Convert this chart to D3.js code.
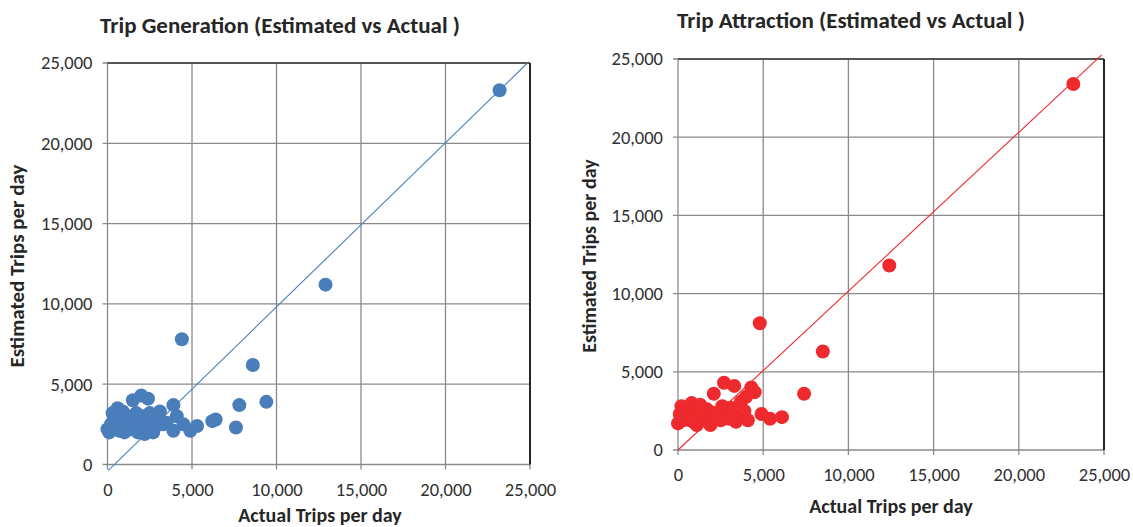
<!DOCTYPE html>
<html>
<head>
<meta charset="utf-8">
<script src="https://cdn.jsdelivr.net/npm/d3@7"></script>
<style>
  body { margin: 0; background: #fff; }
  svg { display: block; }
  text { font-family: Carlito, Lato, "Open Sans", sans-serif; }
</style>
</head>
<body>
<svg id="chart" width="1133" height="527"></svg>
<script>
// ---------- data ----------
const tickValues = [0, 5000, 10000, 15000, 20000, 25000];

const genTitle = "Trip Generation (Estimated vs Actual )";
const genActual = [0, 100, 200, 300, 400, 500, 600, 700, 800, 900, 1000, 1100, 1200, 1300, 1500, 1600, 1700, 1800, 2000, 2100, 2200, 2300, 2400, 2500, 2600, 2800, 3000, 3100, 3300, 3500, 3900, 3900, 4100, 4400, 4500, 4900, 5300, 6200, 6400, 7600, 7800, 8600, 9400, 12900, 23200, 1400, 600, 2700];
const genEstimated = [2200, 2000, 2500, 3200, 2800, 2900, 3500, 2100, 2600, 3300, 2000, 2300, 3000, 2700, 4000, 2500, 3200, 2000, 4300, 3000, 1900, 2600, 4100, 3200, 2200, 2300, 2700, 3300, 2500, 2600, 3700, 2100, 3000, 7800, 2500, 2100, 2400, 2700, 2800, 2300, 3700, 6200, 3900, 11200, 23300, 2200, 2700, 2000];
const genLineX = [50, 24850];
const genLineY = [-370, 25000];

const attrTitle = "Trip Attraction (Estimated vs Actual )";
const attrActual = [0, 100, 200, 300, 400, 600, 800, 900, 1000, 1100, 1300, 1400, 1500, 1700, 1900, 2000, 2100, 2300, 2500, 2600, 2700, 2900, 3100, 3300, 3400, 3500, 3700, 3900, 4000, 4100, 4300, 4500, 4800, 4900, 5400, 6100, 7400, 8500, 12400, 23200, 700, 1200, 3000];
const attrEstimated = [1700, 2300, 2800, 1900, 2500, 2200, 3000, 1800, 2700, 1600, 2900, 2100, 2000, 2600, 1600, 2400, 3600, 2000, 1900, 2800, 4300, 2300, 2700, 4100, 1800, 2200, 3100, 2500, 3400, 1900, 4000, 3700, 8100, 2300, 2000, 2100, 3600, 6300, 11800, 23400, 1900, 2300, 2000];
const attrLineX = [0, 24870];
const attrLineY = [0, 25260];

const xAxisTitle = "Actual Trips per day";
const yAxisTitle = "Estimated Trips per day";

// ---------- drawing ----------
const svg = d3.select("#chart");
const fmt = d3.format(",");

function panel(cfg) {
  const x = d3.scaleLinear().domain([0, 25000]).range(cfg.xr);
  const y = d3.scaleLinear().domain([0, 25000]).range(cfg.yr);
  const g = svg.append("g");
  const gridColor = "#8a8a8a";

  // vertical grid
  g.append("g").selectAll("line").data(tickValues).join("line")
    .attr("x1", d => x(d)).attr("x2", d => x(d))
    .attr("y1", y(0) + 5).attr("y2", y(25000))
    .attr("stroke", gridColor).attr("stroke-width", 1.3);
  // horizontal grid
  g.append("g").selectAll("line").data(tickValues).join("line")
    .attr("x1", x(0) - 5).attr("x2", x(25000))
    .attr("y1", d => y(d)).attr("y2", d => y(d))
    .attr("stroke", gridColor).attr("stroke-width", 1.3);
  // top / right border
  g.append("line").attr("x1", x(0)).attr("x2", x(25000)).attr("y1", y(25000)).attr("y2", y(25000))
    .attr("stroke", "#3a3a3a").attr("stroke-width", 1.5);
  g.append("line").attr("x1", x(25000)).attr("x2", x(25000)).attr("y1", y(25000)).attr("y2", y(0))
    .attr("stroke", "#262626").attr("stroke-width", 2);

  // tick labels via d3 axes
  const xa = g.append("g").attr("transform", `translate(0,${y(0)})`)
    .call(d3.axisBottom(x).tickValues(tickValues).tickFormat(fmt).tickSize(0).tickPadding(cfg.xPad));
  const ya = g.append("g").attr("transform", `translate(${x(0)},0)`)
    .call(d3.axisLeft(y).tickValues(tickValues).tickFormat(fmt).tickSize(0).tickPadding(cfg.yPad));
  [xa, ya].forEach(a => {
    a.select(".domain").remove();
    a.selectAll("text").attr("font-size", cfg.tickFont).attr("fill", "#303030")
      .style("font-family", "Carlito, Lato, 'Open Sans', sans-serif");
  });

  // reference line
  g.append("line")
    .attr("x1", x(cfg.lineX[0])).attr("y1", y(cfg.lineY[0]))
    .attr("x2", x(cfg.lineX[1])).attr("y2", y(cfg.lineY[1]))
    .attr("stroke", cfg.lineColor).attr("stroke-width", 1.1);

  // points
  g.append("g").selectAll("circle").data(cfg.xs.map((v, i) => [v, cfg.ys[i]])).join("circle")
    .attr("cx", d => x(d[0])).attr("cy", d => y(d[1])).attr("r", 7)
    .attr("fill", cfg.color);

  // titles
  g.append("text").attr("x", cfg.titleX).attr("y", cfg.titleY).attr("text-anchor", "middle")
    .attr("font-weight", "bold").attr("font-size", cfg.titleFont).attr("fill", "#262626").text(cfg.title);
  g.append("text").attr("x", cfg.xtX).attr("y", cfg.xtY).attr("text-anchor", "middle")
    .attr("font-weight", "bold").attr("font-size", cfg.axFont).attr("fill", "#262626").text(xAxisTitle);
  g.append("text").attr("transform", `translate(${cfg.ytX},${cfg.ytY}) rotate(-90)`).attr("text-anchor", "middle")
    .attr("font-weight", "bold").attr("font-size", cfg.yFont).attr("fill", "#262626").text(yAxisTitle);
}

panel({
  xr: [107.5, 530], yr: [464.5, 63],
  xs: genActual, ys: genEstimated, lineX: genLineX, lineY: genLineY,
  color: "#4a7ebb", lineColor: "#4a7ebb",
  title: genTitle, titleX: 280, titleY: 33, titleFont: 23,
  xtX: 320, xtY: 522, axFont: 20,
  ytX: 24, ytY: 266, yFont: 21,
  tickFont: 18.5, xPad: 18, yPad: 15
});

panel({
  xr: [678, 1104], yr: [450, 59],
  xs: attrActual, ys: attrEstimated, lineX: attrLineX, lineY: attrLineY,
  color: "#ee2a2e", lineColor: "#ee2a2e",
  title: attrTitle, titleX: 851, titleY: 28, titleFont: 23,
  xtX: 891, xtY: 513, axFont: 20,
  ytX: 596, ytY: 256, yFont: 20,
  tickFont: 18.5, xPad: 18, yPad: 15
});
</script>
</body>
</html>
